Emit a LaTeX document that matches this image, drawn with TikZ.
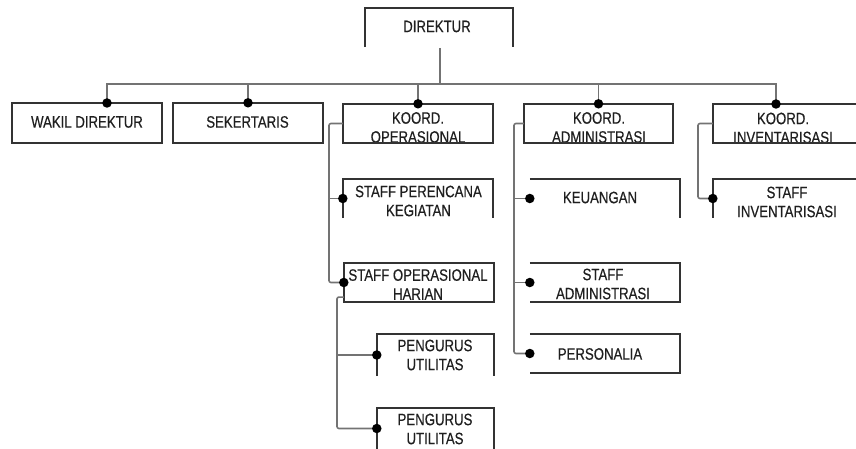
\documentclass[tikz,border=0pt]{standalone}
\usepackage{fontspec}
\setmainfont{Liberation Sans}[FakeStretch=0.8,FakeBold=0.4]
\begin{document}
\begin{tikzpicture}[x=1pt,y=-1pt,
  box/.style={rectangle,inner sep=0pt,minimum width=150pt,minimum height=39pt},
  lbl/.style={inner sep=0pt,align=center,font=\fontsize{16.5}{19}\selectfont,text=black!88},
  bx/.style={draw=black!80,line width=1.6pt},
  conn/.style={draw=black!55,line width=1.6pt,rounded corners=2pt},
  dot/.style={circle,fill=black,inner sep=0pt,minimum size=9.5pt}]
\useasboundingbox (0,0) rectangle (856,449);

% box frames (placed by centre)
\node[box,minimum width=148pt] (dir) at (439,27.5) {};
\node[box,minimum height=40pt] (wakil) at (87,123) {};
\node[box,minimum height=40pt] (sek) at (248,123) {};
\node[box] (kop) at (418,123.5) {};
\node[box] (spk) at (418,198.5) {};
\node[box] (soh) at (419,282.5) {};
\node[box,minimum width=117pt,minimum height=42pt] (pu1) at (435.5,355) {};
\node[box,minimum width=117pt,minimum height=41pt] (pu2) at (435.5,428.5) {};
\node[box,minimum width=149pt] (kad) at (598.5,123.5) {};
\node[box] (keu) at (605,198.5) {};
\node[box] (sad) at (605,282.5) {};
\node[box] (per) at (605,353.5) {};
\node[box,minimum width=143pt] (kin) at (784.5,123.5) {};
\node[box,minimum width=143pt] (sin) at (784.5,198.5) {};

% labels
\node[lbl] (tdir) at (437,26.5) {DIREKTUR};
\node[lbl] (twakil) at (87,122) {WAKIL DIREKTUR};
\node[lbl] (tsek) at (247.5,122) {SEKERTARIS};
\node[lbl] (tkop) at (418,127.5) {KOORD.\\OPERASIONAL};
\node[lbl] (tspk) at (418.5,201) {STAFF PERENCANA\\KEGIATAN};
\node[lbl] (tsoh) at (418,284.5) {STAFF OPERASIONAL\\HARIAN};
\node[lbl] (tpu1) at (435,355) {PENGURUS\\UTILITAS};
\node[lbl] (tpu2) at (435,429) {PENGURUS\\UTILITAS};
\node[lbl] (tkad) at (599,127.5) {KOORD.\\ADMINISTRASI};
\node[lbl] (tkeu) at (600,197.5) {KEUANGAN};
\node[lbl] (tsad) at (603,284) {STAFF\\ADMINISTRASI};
\node[lbl] (tper) at (600,354) {PERSONALIA};
\node[lbl] (tkin) at (783,128) {KOORD.\\INVENTARISASI};
\node[lbl] (tsin) at (787,202) {STAFF\\INVENTARISASI};

% visible box edges
\draw[bx] (dir.south west) -- (dir.north west) -- (dir.north east) -- (dir.south east);
\draw[bx] (wakil.south west) rectangle (wakil.north east);
\draw[bx] (sek.south west) rectangle (sek.north east);
\draw[bx] (kop.south west) rectangle (kop.north east);
\draw[bx] (spk.south west) -- (spk.north west) -- (spk.north east) -- (spk.south east);
\draw[bx] (soh.south west) rectangle (soh.north east);
\draw[bx] (pu1.south west) -- (pu1.north west) -- (pu1.north east) -- (pu1.south east);
\draw[bx] (pu2.south west) -- (pu2.north west) -- (pu2.north east) -- (pu2.south east);
\draw[bx] (kad.south west) rectangle (kad.north east);
\draw[bx] (keu.north west) -- (keu.north east) -- (keu.south east);
\draw[bx] (sad.north west) -- (sad.north east) -- (sad.south east) -- (sad.south west);
\draw[bx] (per.north west) -- (per.north east) -- (per.south east) -- (per.south west);
\draw[bx] (kin.north east) -- (kin.north west) -- (kin.south west) -- (kin.south east);
\draw[bx] (sin.north east) -- (sin.north west) -- (sin.south west);

% connectors
\coordinate (bus) at (440,84);
\coordinate (dirfoot) at (440,48);
\coordinate (wakT) at (107,103);
\coordinate (kinT) at (776,104);
\draw[conn] (dirfoot) -- (bus);
\draw[conn,rounded corners=0pt] (wakT) |- (bus) -| (kinT);
\draw[conn] (sek.north) -- (sek.north |- bus);
\draw[conn] (kop.north) -- (kop.north |- bus);
\draw[conn] (kad.north) -- (kad.north |- bus);

\coordinate (kopL) at (329,123.5);
\draw[conn] (kop.west) -- (kopL) |- (soh.west);
\draw[conn] (kopL |- spk.west) -- (spk.west);

\coordinate (sohL) at (337,297);
\draw[conn] ([yshift=5pt]soh.south west) -- (sohL) |- (pu2.west);
\draw[conn] (sohL |- pu1.west) -- (pu1.west);

\coordinate (kadL) at (514,123.5);
\draw[conn] (kad.west) -- (kadL) |- (per.west);
\draw[conn] (kadL |- keu.west) -- (keu.west);
\draw[conn] (kadL |- sad.west) -- (sad.west);

\coordinate (kinL) at (698,123.5);
\draw[conn] (kin.west) -- (kinL) |- (sin.west);

% junction dots
\node[dot] (j1) at (wakT) {};
\node[dot] (j2) at (sek.north) {};
\node[dot] (j3) at (kop.north) {};
\node[dot] (j4) at (kad.north) {};
\node[dot] (j5) at (kinT) {};
\node[dot] (j6) at (spk.west) {};
\node[dot] (j7) at (soh.west) {};
\node[dot] (j8) at (pu1.west) {};
\node[dot] (j9) at (pu2.west) {};
\node[dot] (j10) at (keu.west) {};
\node[dot] (j11) at (sad.west) {};
\node[dot] (j12) at (per.west) {};
\node[dot] (j13) at (sin.west) {};
\end{tikzpicture}
\end{document}
